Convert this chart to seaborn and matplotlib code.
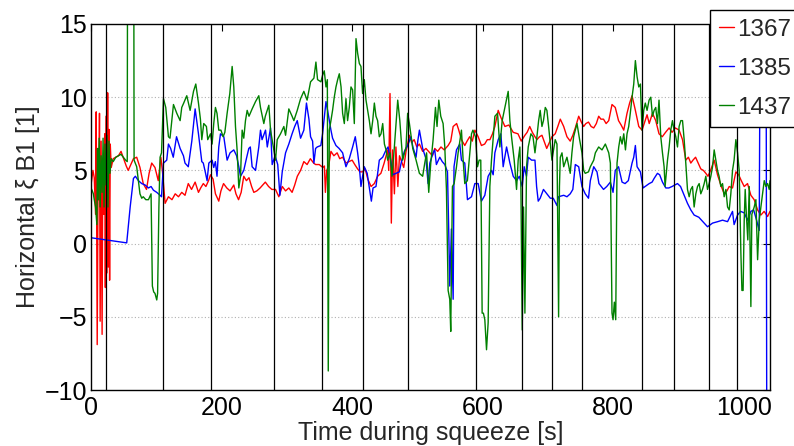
import matplotlib
matplotlib.use("Agg")
import matplotlib.pyplot as plt
import numpy as np
import pandas as pd
import seaborn as sns

# ---------------- data ----------------
t_1367 = [0, 3, 5, 7, 8, 9.5, 11, 12, 13, 14, 15.5, 17, 18, 19.5, 21, 22, 23, 24.5, 25.5, 26.5, 27.5, 28.5, 29.5, 31, 34, 38, 42, 46, 50, 54, 57, 61, 65, 70, 75, 80, 85, 89, 93, 98, 103, 107, 109.5, 113.5, 118.6, 124, 129, 134, 139, 144, 149, 154, 159.5, 164.6, 168, 172, 176, 180, 183, 187, 190.6, 195.7, 199, 203, 208, 213, 218.7, 222, 226, 230, 234, 238, 242, 246, 249.4, 254, 259, 263, 267, 272, 277, 282.6, 287.7, 293, 298, 303, 308, 312, 316, 321, 326, 331, 336, 341, 344, 349.6, 355, 357.5, 359, 361, 364, 367.5, 372, 377, 381, 385.4, 390.5, 395, 400, 404, 408.4, 412, 416, 420, 424, 429, 434, 439, 444, 449, 454.4, 456, 458, 460, 462, 464.7, 467, 470, 472.5, 475, 479, 482.5, 487.7, 491, 495, 499, 503, 508, 513, 519, 523, 526.5, 531, 536, 541, 547, 551, 554.7, 560, 563, 567.4, 572.5, 576, 580, 584, 588, 593, 598, 603, 607, 611, 615, 618.6, 623.7, 628, 634, 640, 646.7, 654, 659, 664.6, 668, 672, 676, 680, 683, 687, 690.7, 694, 698, 702, 706, 711, 715, 718.8, 724, 729, 734, 738, 741.8, 747, 751, 754.6, 758, 762, 766, 770, 774, 777.6, 781, 785, 789, 793, 798, 803, 808, 812, 816, 821, 825, 828.7, 833.8, 839, 844, 848, 851.7, 855, 860, 865, 870, 875, 880, 885.5, 890, 895, 900.8, 906, 911, 915, 918.7, 922, 926, 930, 934, 938, 941.7, 945, 949, 954.5, 959.6, 964.7, 969.8, 974, 977.5, 982.6, 987.7, 992, 996, 1000.5, 1005.6, 1010.7, 1015.8, 1021, 1026, 1031, 1036.3, 1040]
v_1367 = [4.0, 5.0, 4.5, 2.0, 9.0, -6.9, 6.0, 3.0, 8.9, -5.3, 7.0, -6.2, 5.5, 2.0, 7.5, -3.0, 8.7, -2.0, 10.3, -1.6, 7.8, -2.5, 6.8, 5.2, 5.8, 5.9, 6.0, 6.3, 5.8, 5.3, 5.0, 5.4, 5.8, 5.9, 5.2, 4.1, 3.7, 4.8, 5.5, 5.2, 4.3, 5.9, 4.9, 2.75, 3.2, 3.0, 3.4, 3.2, 3.5, 3.3, 4.1, 3.7, 4.2, 3.5, 3.8, 4.1, 3.9, 4.3, 4.7, 4.4, 3.4, 2.9, 3.6, 4.1, 3.8, 3.6, 4.0, 3.4, 3.0, 3.5, 4.6, 4.3, 4.5, 3.9, 3.5, 3.6, 3.8, 4.0, 4.2, 3.9, 3.7, 3.7, 3.2, 3.9, 3.6, 3.8, 3.5, 4.0, 4.6, 5.0, 5.6, 5.4, 5.8, 5.5, 5.4, 5.4, 5.2, 5.3, 3.5, 5.0, 5.3, 6.3, 6.0, 6.2, 5.8, 5.9, 5.5, 5.6, 5.7, 5.4, 5.1, 4.9, 4.9, 5.1, 4.4, 3.9, 4.1, 4.6, 4.8, 5.5, 6.4, 5.0, 10.25, 1.4, 6.4, 3.4, 6.6, 3.9, 6.0, 5.7, 5.2, 6.3, 7.4, 6.9, 7.1, 6.6, 6.8, 6.3, 6.5, 6.2, 6.0, 6.5, 6.3, 6.6, 6.4, 6.7, 7.0, 8.0, 8.2, 7.8, 7.1, 6.7, 7.0, 7.3, 7.0, 7.75, 7.3, 6.7, 6.8, 7.1, 7.1, 7.5, 8.0, 9.1, 8.6, 8.0, 8.1, 7.6, 7.5, 7.0, 7.4, 7.6, 8.0, 7.6, 7.3, 7.1, 7.3, 7.4, 7.0, 6.5, 6.9, 7.3, 7.5, 8.0, 8.5, 8.0, 7.3, 7.0, 7.4, 7.9, 8.7, 8.3, 8.0, 8.2, 8.3, 8.0, 7.9, 8.2, 8.7, 8.5, 8.5, 8.2, 8.4, 9.5, 9.3, 8.4, 8.1, 7.75, 8.9, 9.6, 10.1, 9.1, 8.0, 7.75, 8.3, 8.8, 8.2, 8.9, 8.4, 7.5, 7.3, 7.6, 7.9, 7.6, 7.9, 7.75, 7.1, 5.7, 5.9, 5.5, 5.7, 5.9, 5.5, 5.1, 5.0, 4.8, 4.6, 5.0, 5.7, 4.7, 4.0, 3.4, 3.6, 3.9, 3.8, 4.9, 4.7, 4.3, 3.9, 4.1, 3.3, 3.0, 2.3, 1.95, 2.2, 1.85, 2.2]

t_1385 = [0, 54.7, 60, 65, 68, 72.6, 77.7, 83, 88, 92, 95.6, 100.7, 105.8, 108, 111, 116, 118.6, 122, 126, 131, 136.5, 141.6, 144, 149, 154.4, 159.5, 164.6, 169.7, 172, 175, 177.8, 180.5, 185.5, 188, 190.5, 193, 195.7, 198.3, 203.4, 208.5, 213, 218.7, 223, 226.4, 229, 234, 238, 241.7, 244, 246.8, 252, 257, 259.6, 262, 267.3, 270, 275, 277.5, 282, 286, 289.3, 292.9, 298, 303, 308, 312, 315.9, 321, 326, 330, 333.8, 336.3, 339.4, 341.4, 344, 346.5, 352, 354.7, 359.9, 362.4, 367.5, 370, 375.2, 380, 385.4, 390.5, 395.6, 400.7, 404.8, 408.4, 411, 413.5, 416, 418.6, 423, 426.3, 429.4, 432, 436.5, 441.6, 446.8, 451.9, 455, 459, 462, 467, 472.3, 475, 480, 485, 490, 493, 497.9, 500.5, 503, 508, 513, 516.3, 519, 524, 526.5, 529, 534.2, 538, 541.9, 546, 548, 549.5, 552, 554.7, 556, 559.8, 564.9, 567.4, 572.5, 576.6, 582.8, 587.9, 593, 598, 603.2, 608.3, 613.4, 616, 618.6, 623.7, 627.8, 631.3, 636.5, 641.6, 646.7, 651.8, 656, 660.5, 663.5, 667, 669.7, 674.8, 680, 682.5, 685, 688, 693, 698.3, 703.5, 708, 713.7, 716, 724, 729, 734, 738, 741.8, 747, 752, 757, 762, 764.8, 770, 775, 778, 785, 790, 795.5, 799.6, 803, 808, 813.4, 818, 823, 828.7, 831.3, 833.8, 836.4, 841.5, 845.6, 851.7, 855, 859.4, 862.5, 867.6, 871, 875.3, 880.4, 885, 890, 898.3, 903, 908.5, 913.6, 918.7, 923.8, 931, 939.2, 944.3, 952, 960, 967.3, 975, 982.6, 985, 990.3, 995, 1000.5, 1005.6, 1010.7, 1015, 1019.4, 1023.5, 1025, 1034, 1035]
v_1385 = [0.4, 0.05, 2.5, 4.45, 4.6, 4.3, 4.1, 4.0, 3.8, 3.9, 3.65, 3.5, 3.3, 3.2, 5.5, 5.7, 6.8, 6.5, 5.9, 7.3, 6.5, 6.0, 5.5, 5.25, 7.0, 9.2, 7.5, 5.6, 5.5, 4.9, 4.3, 5.5, 5.7, 5.2, 5.6, 4.6, 6.6, 7.5, 7.3, 5.7, 6.2, 6.4, 6.0, 5.25, 4.6, 5.0, 5.8, 6.5, 6.6, 5.25, 5.0, 6.6, 7.75, 7.1, 7.75, 6.6, 7.9, 5.4, 6.0, 5.4, 3.3, 4.9, 6.2, 6.8, 7.5, 8.0, 8.4, 7.2, 7.75, 9.6, 8.5, 7.3, 7.0, 5.5, 6.5, 6.6, 6.7, 7.5, 9.7, 9.1, 7.75, 7.2, 6.7, 6.5, 6.2, 5.25, 5.8, 6.6, 7.3, 6.2, 5.25, 3.9, 4.6, 5.25, 4.8, 3.8, 2.9, 3.8, 3.9, 5.7, 5.9, 6.4, 6.6, 5.7, 4.7, 4.8, 4.9, 5.5, 6.3, 6.7, 7.3, 6.6, 5.9, 7.0, 7.75, 6.5, 5.8, 4.1, 5.5, 6.2, 6.4, 5.4, 5.9, 5.6, 5.4, 4.9, 0.7, -2.9, 1.0, -3.8, 5.25, 6.4, 6.8, 5.7, 5.5, 3.0, 3.2, 4.1, 4.1, 2.9, 3.3, 4.6, 5.0, 4.7, 6.2, 7.1, 7.5, 5.25, 6.6, 5.5, 4.6, 4.3, 4.6, 3.9, 5.25, 4.6, 5.9, 5.7, 5.7, 3.9, 2.9, 3.1, 3.7, 3.4, 3.1, 3.1, 2.6, 3.2, 3.3, 3.2, 3.4, 3.7, 5.4, 5.25, 3.9, 3.4, 3.1, 4.3, 5.25, 4.9, 4.1, 3.7, 3.9, 4.2, 3.5, 5.0, 5.25, 4.2, 4.1, 4.3, 5.5, 5.9, 6.7, 5.25, 4.9, 3.8, 4.0, 4.1, 4.2, 4.45, 4.8, 4.7, 4.2, 3.8, 3.8, 3.9, 4.1, 3.9, 3.3, 2.75, 2.3, 1.95, 1.8, 1.4, 1.15, 1.4, 1.5, 1.6, 1.5, 2.2, 1.3, 1.95, 2.2, 2.1, 1.6, 2.2, 2.3, 1.6, 0.9, 16.0, 16.0, -12.0]

t_1437 = [0, 2, 3.6, 5, 7, 9, 10, 11, 12.5, 14, 15.5, 17, 18.5, 20, 21.5, 23, 24.5, 26, 27.5, 29, 31, 34, 38, 42, 46, 49.6, 53, 55.5, 56, 65.5, 66, 70, 72, 75, 77.7, 80, 84, 88, 92, 94, 96, 98, 100.7, 102, 104, 105.8, 108, 111, 114.5, 118.6, 121, 126.3, 131.4, 136.5, 139, 142, 146.7, 151.8, 157, 160.5, 164.6, 167.6, 169.7, 172.7, 176.8, 178.8, 183, 185.5, 188, 190.6, 193, 195.7, 199, 202.4, 205, 208.5, 212.6, 216.2, 218.7, 221.3, 223.8, 226.4, 229, 231.5, 234, 236.6, 239.2, 242, 246.8, 252, 254.5, 257, 259.6, 264.7, 267, 272.4, 275, 280, 282.6, 285.2, 290.3, 295.4, 298, 303, 308, 310.7, 315.9, 321, 326, 331, 336.3, 341.4, 344.5, 347, 352.2, 354.7, 357.3, 359.9, 362, 363.4, 365, 367.5, 370, 372.6, 375.2, 377.8, 380.3, 383, 385.4, 388, 390.5, 393, 395.6, 398.2, 400.7, 403.3, 405.9, 408.4, 411, 413.5, 416, 418.6, 421.2, 423.8, 426.3, 428.9, 431.5, 434, 436.5, 439, 441.6, 444.2, 446.8, 449.4, 451.9, 454.4, 458, 461, 464, 469.8, 473, 477.4, 482.5, 485, 487.7, 492.8, 497.9, 503, 508, 511.2, 514, 517.3, 520.4, 524, 527.6, 530, 532.7, 535.7, 539.3, 541.9, 544.4, 547, 549.5, 551, 553.6, 556.2, 559.8, 562.3, 567.4, 570, 572.5, 576.5, 580.2, 582.8, 585, 588.9, 592, 594.5, 597, 599.1, 601, 603.2, 605.8, 608.3, 610.9, 613.4, 618.6, 622.7, 626.2, 629.8, 633.9, 639, 641.6, 644.1, 648.2, 651.8, 654.3, 656.9, 658.5, 660.5, 662.5, 664.6, 667.1, 669.7, 673.8, 677, 680, 683, 685.6, 688, 690.7, 693, 695.8, 698.3, 700.9, 703.5, 706, 708.5, 711, 713.7, 716.2, 717.5, 718.8, 721.4, 724, 729, 734, 736.6, 739.2, 741.8, 744.4, 748.4, 752, 754.6, 757, 762, 764.8, 770, 772.5, 777.6, 782.7, 787.8, 793, 795.5, 798, 799.6, 801.6, 803.7, 805.7, 808.3, 810.8, 813.4, 816, 818.6, 821, 823.6, 826, 828.7, 831.3, 833.8, 836.4, 839, 841.5, 844, 846.6, 849, 851.7, 854.8, 857.4, 860, 862.5, 865, 867.6, 870, 872.7, 875.3, 877.8, 879.3, 883, 885.5, 888, 890.6, 893, 895.7, 898.3, 900.8, 903.4, 906, 908.5, 911, 913.6, 916.2, 918.7, 921.3, 923.8, 926.4, 929, 931.5, 934, 936.6, 939.2, 941.7, 944.3, 946.8, 949.4, 952, 954.5, 957, 959.6, 962, 964.7, 967.3, 969.8, 972.4, 975, 977.5, 980, 982.6, 985, 987.7, 990.3, 992.8, 994, 995.4, 997, 998.8, 1000.5, 1002, 1004, 1006, 1008.2, 1010.7, 1012.2, 1015.8, 1018.4, 1021, 1023.5, 1026, 1028.6, 1031.2, 1033.7, 1036.3, 1038.8, 1040]
v_1437 = [3.8, 3.6, 3.4, 3.0, 2.5, 1.3, 6.5, 3.0, 7.2, 2.5, 6.0, 3.5, 7.2, 2.5, 6.8, 4.0, 7.4, 2.5, 7.0, 4.8, 5.8, 5.6, 5.9, 6.0, 6.1, 5.9, 5.7, 5.6, 20.0, 20.0, 5.7, 5.25, 4.5, 3.4, 3.1, 3.2, 3.0, 3.0, 3.4, -2.9, -3.3, -3.4, -3.85, -3.4, 2.5, 5.9, 6.2, 9.9, 9.3, 7.3, 7.2, 9.5, 8.9, 8.4, 9.3, 9.6, 10.1, 9.1, 10.4, 10.9, 9.6, 8.5, 7.1, 8.2, 8.0, 7.1, 7.5, 6.8, 8.2, 9.3, 8.9, 7.75, 7.75, 7.3, 7.6, 8.9, 10.25, 12.1, 10.7, 8.0, 6.4, 3.8, 4.6, 7.75, 7.2, 8.4, 9.1, 8.7, 9.2, 9.7, 9.9, 10.1, 9.3, 8.2, 8.7, 9.45, 7.75, 6.4, 5.7, 7.1, 7.5, 8.0, 7.4, 9.2, 8.7, 8.4, 9.1, 9.9, 10.4, 9.8, 11.05, 11.3, 12.4, 11.2, 11.05, 11.5, 11.8, 10.7, 11.2, -8.7, 7.75, 8.4, 9.1, 10.0, 10.7, 11.2, 11.6, 10.7, 8.9, 8.2, 9.9, 8.4, 9.3, 10.7, 10.5, 8.2, 14.0, 13.0, 12.3, 12.1, 10.25, 11.2, 9.8, 9.1, 8.4, 7.5, 8.4, 9.6, 8.7, 8.4, 7.3, 7.5, 8.2, 6.8, 6.4, 5.7, 6.2, 4.6, 6.2, 9.8, 8.4, 5.7, 6.6, 8.9, 8.2, 6.5, 5.7, 4.8, 4.6, 5.5, 6.2, 3.5, 5.5, 7.1, 9.3, 8.0, 9.8, 8.7, 8.2, 6.6, 3.7, -3.2, -3.8, -6.0, 3.9, 4.1, 5.25, 6.2, 7.75, 5.7, 4.1, 4.3, 6.2, 7.5, 7.75, 7.3, 5.25, 5.7, 5.7, -4.75, -4.75, -5.2, -7.25, -5.4, 3.9, 5.7, 8.7, 8.9, 6.6, 8.4, 9.3, 10.4, 8.4, 7.3, 5.7, 3.7, 5.7, 6.6, 3.7, -5.9, 2.5, -4.75, 5.25, 6.6, 7.5, 7.3, 6.2, 7.3, 8.4, 9.1, 8.0, 8.4, 9.3, 9.1, 8.0, 6.8, 5.7, 6.4, 7.1, 6.8, -5.0, 3.9, 5.9, 6.2, 5.25, 5.9, 4.8, 6.2, 7.3, 7.75, 8.2, 7.1, 6.2, 5.0, 4.8, 4.9, 5.25, 5.7, 6.2, 6.6, 6.4, 6.8, 6.2, 5.5, -4.75, -5.2, -4.0, -5.2, 5.5, 6.6, 7.3, 6.8, 7.5, 6.4, 7.5, 8.0, 8.9, 10.0, 10.9, 12.5, 11.4, 10.7, 10.9, 7.75, 9.1, 9.6, 9.1, 9.8, 10.0, 8.7, 9.1, 9.3, 8.2, 9.8, 7.3, 6.2, 5.25, 3.9, 5.7, 6.6, 7.75, 8.4, 7.75, 7.3, 6.6, 8.0, 8.4, 8.4, 7.1, 5.5, 3.7, 3.2, 3.7, 3.9, 2.5, 3.4, 3.9, 4.1, 3.4, 3.7, 4.1, 4.6, 3.7, 4.1, 4.6, 5.25, 6.4, 5.7, 5.0, 4.6, 3.9, 4.1, 3.2, 3.7, 2.5, 2.3, 3.4, 5.0, 5.7, 7.1, 6.2, 5.0, 2.5, -0.65, -3.2, -3.2, 1.6, 3.7, 1.8, 0.25, 3.9, -4.3, 2.0, 2.5, 3.0, -1.1, 1.6, 2.5, 3.4, 4.3, 3.9, 4.1, 3.7, 4.3]

series_names = ["1367", "1385", "1437"]
series_colors = ["#ff0000", "#0000ff", "#008000"]
marker_times = [22.4, 110, 184.5, 280, 354, 417, 485.6, 590, 659.5, 706, 752.5, 844.5, 893, 947, 990]
x_ticks = [0, 200, 400, 600, 800, 1000]
y_ticks = [-10, -5, 0, 5, 10, 15]

# ---------------- plotting ----------------
sns.set_style("white")
plt.rcParams["font.family"] = ["Liberation Sans", "DejaVu Sans"]

W, H = 794, 446
fig = plt.figure(figsize=(W / 100, H / 100), dpi=100)
ax = fig.add_axes([91 / W, 1 - 390 / H, (770 - 91) / W, (390 - 24) / H])

# horizontal dotted grid
for y in [-5, 0, 5, 10]:
    ax.axhline(y, color="#b0b0b0", lw=0.8, ls=(0, (1, 2)), zorder=0)

for t, v, c, name in zip([t_1367, t_1385, t_1437], [v_1367, v_1385, v_1437],
                         series_colors, series_names):
    df = pd.DataFrame({"t": t, "v": v})
    sns.lineplot(data=df, x="t", y="v", color=c, lw=1.0, ax=ax, label=name,
                 estimator=None, sort=False, zorder=2)

for xt in marker_times:
    ax.axvline(xt, color="black", lw=0.9, zorder=3)

ax.set_xlim(0, 1040)
ax.set_ylim(-10, 15)
ax.set_xticks(x_ticks)
ax.set_yticks(y_ticks)
ax.tick_params(direction="in", length=5, width=0.8, top=True, right=True,
               labelsize=18, colors="black")
ax.tick_params(axis="x", pad=4)
ax.tick_params(axis="y", pad=3)
for s in ax.spines.values():
    s.set_color("black")
    s.set_linewidth(1.0)

ax.set_xlabel("Time during squeeze [s]", fontsize=18, labelpad=1)
ax.set_ylabel("Horizontal ξ B1 [1]", fontsize=18, labelpad=3)

leg = ax.legend(loc="upper left", bbox_to_anchor=(710 / W, 1 - 10 / H),
                bbox_transform=fig.transFigure, frameon=True, fancybox=False,
                edgecolor="black", framealpha=1, fontsize=17.5,
                handlelength=0.65, handletextpad=0.1, borderaxespad=0,
                borderpad=0.35, labelspacing=0.7)
leg.get_frame().set_linewidth(1.0)
leg.set_zorder(10)

fig.savefig("out.png", dpi=100)
